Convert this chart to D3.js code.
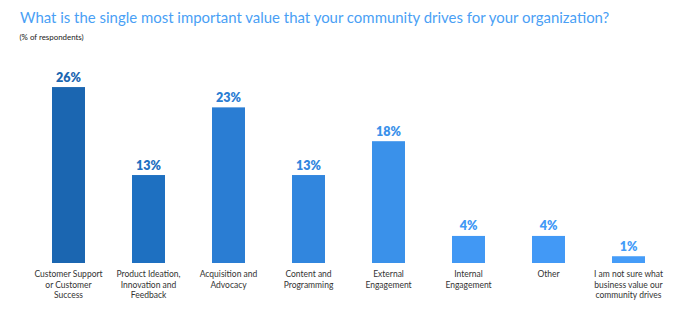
<!DOCTYPE html>
<html>
<head>
<meta charset="utf-8">
<script src="https://cdn.jsdelivr.net/npm/d3@7"></script>
<style>
  html, body { margin: 0; padding: 0; background: #fff; }
  svg { display: block; }
</style>
</head>
<body>
<svg id="chart" width="694" height="334"></svg>
<script>
// Survey answers, one bar each; line breaks mark how the axis labels wrap
const categories = [
  "Customer Support\nor Customer\nSuccess",
  "Product Ideation,\nInnovation and\nFeedback",
  "Acquisition and\nAdvocacy",
  "Content and\nProgramming",
  "External\nEngagement",
  "Internal\nEngagement",
  "Other",
  "I am not sure what\nbusiness value our\ncommunity drives"
];
const values = [26, 13, 23, 13, 18, 4, 4, 1];
const barColors = ["#1b66b1", "#1e70c1", "#2a7dd3", "#3186de", "#3a91ea", "#4198f4", "#4299f6", "#459cf8"];

const svg = d3.select("#chart");
const font = "Lato, 'Open Sans', sans-serif";

// Heading
svg.append("text")
  .attr("x", 20).attr("y", 23)
  .attr("font-family", font)
  .attr("font-size", 14.95)
  .attr("fill", "#4a9ff5")
  .text("What is the single most important value that your community drives for your organization?");

svg.append("text")
  .attr("x", 19.5).attr("y", 39.5)
  .attr("font-family", font)
  .attr("font-size", 7.9)
  .attr("fill", "#222")
  .text("(% of respondents)");

const x = d3.scaleBand()
  .domain(categories)
  .range([52, 645])
  .paddingInner(0.5875)
  .paddingOuter(0);

const y = d3.scaleLinear()
  .domain([0, 30])
  .range([263, 60]);

const data = categories.map((c, i) => ({ c, v: values[i], color: barColors[i] }));

svg.append("g").selectAll("rect")
  .data(data)
  .join("rect")
  .attr("x", d => x(d.c))
  .attr("y", d => y(d.v))
  .attr("width", x.bandwidth())
  .attr("height", d => y(0) - y(d.v))
  .attr("fill", d => d.color);

// Value labels above bars
svg.append("g").selectAll("text")
  .data(data)
  .join("text")
  .attr("x", d => x(d.c) + x.bandwidth() / 2)
  .attr("y", d => y(d.v) - 5.5)
  .attr("text-anchor", "middle")
  .attr("font-family", font)
  .attr("font-weight", 800)
  .attr("font-size", 12.5)
  .attr("fill", d => d.color)
  .text(d => d.v + "%");

// Category labels under bars, wrapped on line breaks
const axis = d3.axisBottom(x).tickSize(0).tickPadding(0);
const gAxis = svg.append("g")
  .attr("transform", `translate(0, ${y(0)})`)
  .call(axis);
gAxis.select(".domain").remove();
gAxis.selectAll(".tick text").each(function(d) {
  const t = d3.select(this);
  t.text(null)
    .attr("y", 0)
    .attr("dy", null)
    .attr("font-family", font)
    .attr("font-size", 8.5)
    .attr("fill", "#333");
  d.split("\n").forEach((line, i) => {
    t.append("tspan")
      .attr("x", 0)
      .attr("y", 14 + i * 10.7)
      .text(line);
  });
});
</script>
</body>
</html>
